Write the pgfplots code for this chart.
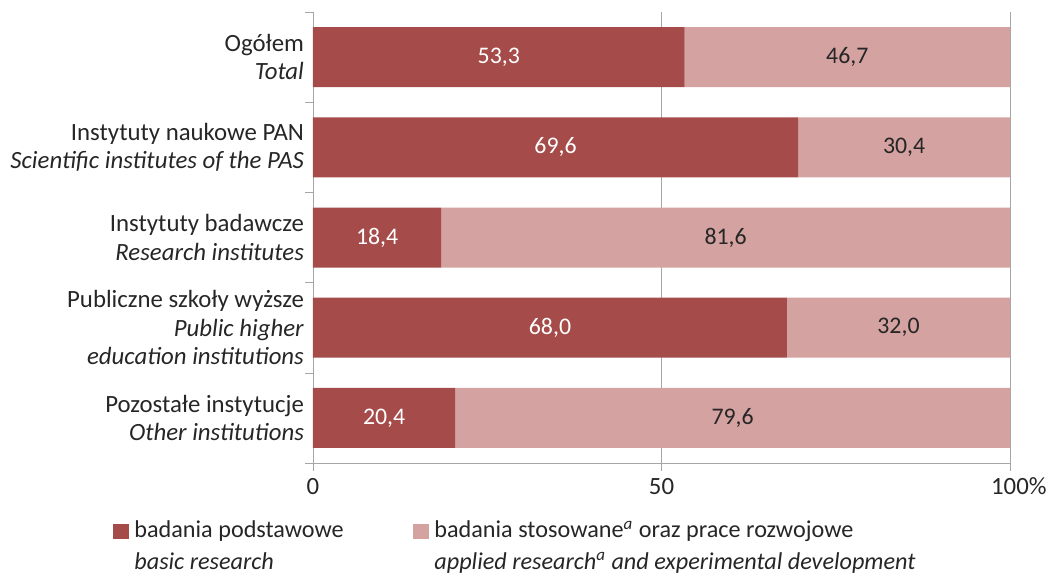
\documentclass[border=0pt]{standalone}
\usepackage{fontspec}
\setmainfont{Carlito}
\usepackage{pgfplots}
\pgfplotsset{compat=1.18}
\definecolor{basic}{RGB}{165,75,74}
\definecolor{applied}{RGB}{212,162,161}
\definecolor{axisgray}{RGB}{166,166,166}
\definecolor{txt}{RGB}{38,38,38}
\newcommand\lbl{\fontsize{12.4}{14.3}\selectfont}
\newcommand\val{\fontsize{11.9}{14.3}\selectfont}
\newcommand\leg{\fontsize{12.1}{14.3}\selectfont}

\begin{document}
\begin{tikzpicture}
\useasboundingbox (-156.5pt,-55.5pt) rectangle (367pt,231.5pt);
\begin{axis}[
    scale only axis,
    width=348.5pt, height=225.5pt,
    xbar stacked,
    bar width=30pt,
    xmin=0, xmax=100,
    ymin=-0.5, ymax=4.5,
    y dir=reverse,
    axis x line*=bottom,
    axis y line*=left,
    axis line style={-, draw=axisgray},
    tick align=outside,
    major tick length=4pt,
    tick style={draw=axisgray},
    xtick={0,50,100},
    xticklabels={0,50,100\rlap{\%}},
    xmajorgrids,
    grid style={draw=axisgray},
    ytick={-0.5,0.5,1.5,2.5,3.5,4.5},
    yticklabels={},
    extra y ticks={0,1,2,3,4},
    extra y tick labels={
        {Ogółem\\\textit{Total}},
        {Instytuty naukowe PAN\\\textit{Scientific institutes of the PAS}},
        {Instytuty badawcze\\\textit{Research institutes}},
        {Publiczne szkoły wyższe\\\textit{Public higher}\\\textit{education institutions}},
        {Pozostałe instytucje\\\textit{Other institutions}}},
    extra y tick style={major tick length=0pt},
    yticklabel style={align=right, font=\lbl, text=txt, xshift=-1pt},
    xticklabel style={font=\lbl, text=txt},
    /pgf/number format/assume math mode=true,
    point meta=explicit,
    nodes near coords={\pgfmathprintnumber[fixed, fixed zerofill, precision=1, use comma]{\pgfplotspointmeta}},
    nodes near coords style={font=\val},
    legend image code/.code={\fill[#1] (0pt,-0.7pt) rectangle (8pt,7pt);},
    legend style={
        draw=none, fill=none, inner sep=0pt,
        at={(axis description cs:0,0)}, anchor=north west,
        xshift=-100pt, yshift=-27.2pt,
        cells={anchor=base west},
        nodes={inner sep=0pt, font=\leg, text=txt},
        /tikz/every odd column/.style={column sep=2.5pt},
    },
    legend columns=2,
]
\addplot[fill=basic, draw=none, every node near coord/.append style={text=white}] coordinates {
    (53.3,0) [53.3]
    (69.6,1) [69.6]
    (18.4,2) [18.4]
    (68.0,3) [68.0]
    (20.4,4) [20.4]
};
\addlegendentry{\begin{tabular}[t]{@{}p{139.5pt}@{}}badania podstawowe\\[1.5pt]\textit{basic research}\end{tabular}}
\addplot[fill=applied, draw=none, every node near coord/.append style={text=txt}] coordinates {
    (46.7,0) [46.7]
    (30.4,1) [30.4]
    (81.6,2) [81.6]
    (32.0,3) [32.0]
    (79.6,4) [79.6]
};
\addlegendentry{\begin{tabular}[t]{@{}l@{}}badania stosowane\textsuperscript{\textit{a}} oraz prace rozwojowe\\[1.5pt]\textit{applied research\textsuperscript{a} and experimental development}\end{tabular}}
\end{axis}
\end{tikzpicture}
\end{document}
